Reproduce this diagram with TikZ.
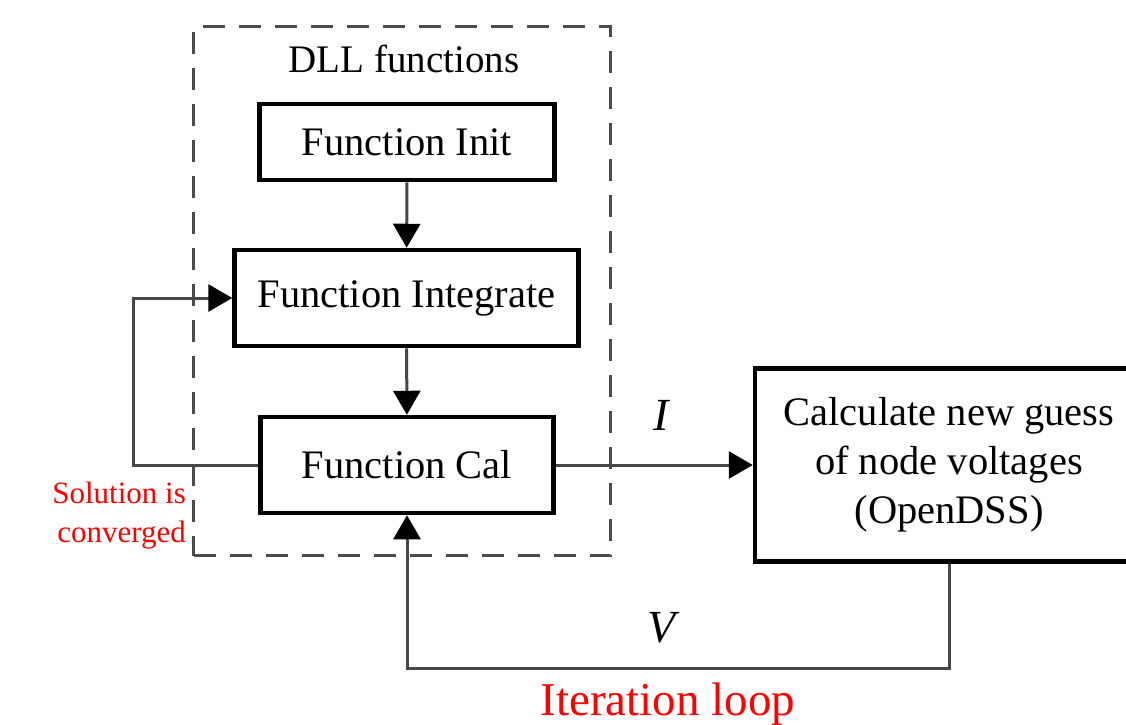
\documentclass[tikz,border=0pt]{standalone}
\usepackage{fontspec}
\setmainfont{Liberation Serif}
\usetikzlibrary{arrows.meta,calc}
\begin{document}
\begin{tikzpicture}[x=1pt,y=-1pt,
  box/.style={draw=black,line width=4.5pt,fill=white,inner sep=0pt,align=center,font=\fontsize{40.5}{49}\selectfont},
  conn/.style={draw=black!72,line width=3pt,-{Triangle[length=24pt,width=27pt,black]}},
  lbl/.style={inner sep=0pt,font=\fontsize{39}{46}\selectfont},
  redlbl/.style={inner sep=0pt,text=red},
  dllbox/.style={draw=black!70,line width=3pt,dash pattern=on 22pt off 14pt,inner sep=0pt}
]
\useasboundingbox (0,0) rectangle (1126,724);
\node[dllbox,minimum width=417pt,minimum height=529pt] (dll) at (402,291) {};
\node[lbl,anchor=base] (dlltext) at (404,72) {DLL functions};
\node[box,minimum width=295pt,minimum height=76pt] (init) at (407,142) {Function Init};
\node[box,minimum width=344pt,minimum height=96pt] (integ) at (406.5,298) {Function Integrate};
\node[box,minimum width=293pt,minimum height=96pt] (cal) at (407,465) {Function Cal};
\node[box,minimum width=388pt,minimum height=193pt] (dss) at (949,465) {Calculate new guess\\of node voltages\\(OpenDSS)};
\coordinate (lp) at (133,298);
\coordinate (bl) at (407,668);
\draw[conn] (init) -- (integ);
\draw[conn] (integ) -- (cal);
\draw[conn] (cal.west) -| (lp) -- (integ.west);
\draw[conn] (cal.east) -- (dss.west);
\draw[conn] (dss.south) |- (bl) -- (cal.south);
\node[lbl,anchor=base,font=\fontsize{46}{50}\selectfont\itshape] (ilbl) at (661,430) {I};
\node[lbl,anchor=base,font=\fontsize{46}{50}\selectfont\itshape] (vlbl) at (662,642) {V};
\node[redlbl,anchor=east,align=right,font=\fontsize{31}{39}\selectfont] (conv) at (186,516) {Solution is\\converged};
\node[redlbl,anchor=base,font=\fontsize{47}{50}\selectfont] (iter) at (668,715) {Iteration loop};
\end{tikzpicture}
\end{document}
